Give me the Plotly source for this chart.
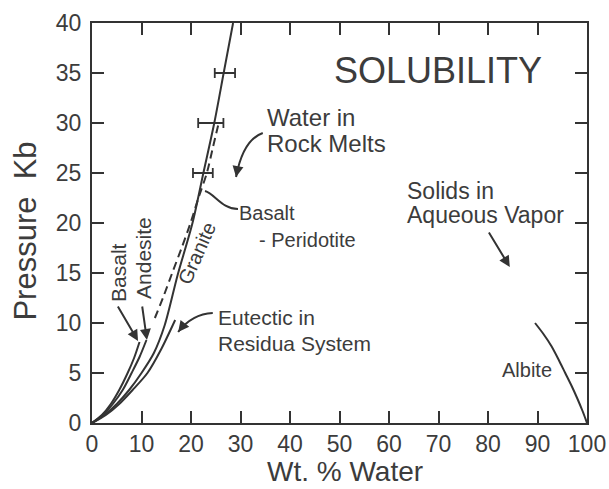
import plotly.graph_objects as go

# Solubility curves: wt.% water vs pressure (kb)
basalt_water = [0, 2.0, 3.8, 5.5, 7.2, 8.5, 9.6]
basalt_p = [0, 0.8, 1.9, 3.3, 5.0, 6.5, 8.1]

andesite_water = [0, 2.2, 4.2, 6.2, 8.0, 9.6, 11.0]
andesite_p = [0, 0.8, 1.9, 3.3, 5.0, 6.6, 8.3]

granite_water = [0, 2.5, 5.0, 7.5, 10.0, 12.5, 14.7, 17.3, 20.3, 22.5, 24.7, 26.6, 28.5]
granite_p = [0, 0.8, 1.9, 3.3, 5.0, 7.0, 9.8, 14.8, 20.0, 25.0, 30.0, 35.0, 40.0]

eutectic_water = [0, 2.8, 5.5, 8.2, 11.2, 14.0, 16.8]
eutectic_p = [0, 0.8, 1.9, 3.3, 5.0, 7.4, 10.3]

bas_perid_water = [12.7, 14.4, 16.2, 18.1, 19.9, 21.5, 23.2, 24.4, 25.6]
bas_perid_p = [10.5, 12.6, 15.0, 17.5, 20.0, 22.5, 25.0, 27.5, 30.0]

albite_water = [89.5, 91.2, 92.8, 94.3, 95.6, 96.9, 98.0, 99.1, 100.0]
albite_p = [10.0, 8.9, 7.7, 6.3, 5.0, 3.7, 2.5, 1.2, 0.0]

# Granite measurements with horizontal uncertainty
meas_water = [22.4, 24.0, 26.85]
meas_p = [25, 30, 35]
meas_err = [2.0, 2.55, 2.05]

x_ticks = [0, 10, 20, 30, 40, 50, 60, 70, 80, 90, 100]
y_ticks = [0, 5, 10, 15, 20, 25, 30, 35, 40]

INK = "#333333"
TXT = "#3c3c3c"
FONT = "Liberation Sans, Arial, sans-serif"

fig = go.Figure()

def curve(xs, ys, dash="solid"):
    fig.add_trace(go.Scatter(
        x=xs, y=ys, mode="lines",
        line=dict(color=INK, width=2, shape="spline", smoothing=0.8, dash=dash),
        hoverinfo="skip", showlegend=False, cliponaxis=False))

curve(basalt_water, basalt_p)
curve(andesite_water, andesite_p)
curve(granite_water, granite_p)
curve(eutectic_water, eutectic_p)
curve(bas_perid_water, bas_perid_p, dash="8px,5px")
curve(albite_water, albite_p)

fig.add_trace(go.Scatter(
    x=meas_water, y=meas_p, mode="markers",
    marker=dict(size=1, color=INK, opacity=0),
    error_x=dict(type="data", array=meas_err, color=INK, thickness=1.8, width=5),
    hoverinfo="skip", showlegend=False))

# Curved leader lines (data coordinates)
leaders = [
    "M 34.5,29.0 Q 30.5,28.3 29.1,24.6",             # Water in Rock Melts
    "M 22.83,23.2 C 24.85,22.9 26.26,21.4 29.49,21.4",  # Basalt - Peridotite
    "M 24.4,11.0 Q 20.2,10.9 17.4,9.1",               # Eutectic
]
for p in leaders:
    fig.add_shape(type="path", path=p, xref="x", yref="y",
                  line=dict(color=INK, width=2))

def arrow(tx, ty, hx, hy):
    fig.add_annotation(x=hx, y=hy, ax=tx, ay=ty, xref="x", yref="y",
                       axref="x", ayref="y", text="", showarrow=True,
                       arrowhead=2, arrowsize=1.1, arrowwidth=2,
                       arrowcolor=INK, standoff=0, startstandoff=0)

arrow(29.5, 25.7, 29.1, 24.6)
arrow(18.5, 9.8, 17.4, 9.1)
arrow(5.05, 11.8, 9.3, 8.2)
arrow(10.1, 11.8, 11.1, 8.3)
arrow(80.0, 19.2, 84.4, 15.6)

def label(x, y, text, size, xanchor="left", angle=0):
    fig.add_annotation(x=x, y=y, xref="x", yref="y", text=text,
                       showarrow=False, xanchor=xanchor, yanchor="middle",
                       textangle=angle,
                       font=dict(family=FONT, size=size, color=TXT))

label(69.8, 35.3, "SOLUBILITY", 36, xanchor="center")
label(35.0, 30.6, "Water in", 24)
label(35.0, 28.0, "Rock Melts", 24)
label(29.3, 21.0, "Basalt", 20)
label(33.3, 18.3, "- Peridotite", 20)
label(21.2, 17.0, "Granite", 20, xanchor="center", angle=-66)
label(5.25, 15.1, "Basalt", 21, xanchor="center", angle=-90)
label(10.3, 16.5, "Andesite", 21, xanchor="center", angle=-90)
label(25.0, 10.6, "Eutectic in", 21)
label(25.0, 8.0, "Residua System", 21)
label(63.3, 23.2, "Solids in", 23)
label(63.3, 20.8, "Aqueous Vapor", 23)
label(87.9, 5.3, "Albite", 20, xanchor="center")

# Axis titles
fig.add_annotation(x=-0.135, y=0.479, xref="paper", yref="paper",
                   text="Pressure  Kb", showarrow=False, textangle=-90,
                   xanchor="center", yanchor="middle",
                   font=dict(family=FONT, size=31, color=TXT))
fig.add_annotation(x=0.511, y=-0.121, xref="paper", yref="paper",
                   text="Wt. % Water", showarrow=False,
                   xanchor="center", yanchor="middle",
                   font=dict(family=FONT, size=28, color=TXT))

axis_common = dict(
    showgrid=False, zeroline=False, showline=True, linecolor=INK,
    linewidth=2, mirror="ticks", ticks="inside", ticklen=12,
    tickwidth=1.5, tickcolor=INK, automargin=False,
    tickfont=dict(family=FONT, size=23, color=TXT),
)

fig.update_xaxes(range=[0, 100], tickvals=x_ticks,
                 ticktext=[str(v) for v in x_ticks],
                 ticklabelstandoff=-1, **axis_common)
fig.update_yaxes(range=[0, 40], tickvals=y_ticks,
                 ticktext=[str(v) for v in y_ticks],
                 ticklabelstandoff=4, **axis_common)

fig.update_layout(
    width=609, height=489,
    margin=dict(l=92, r=22, t=23, b=66),
    paper_bgcolor="white", plot_bgcolor="white",
    showlegend=False,
)

fig.write_html("out.html")
